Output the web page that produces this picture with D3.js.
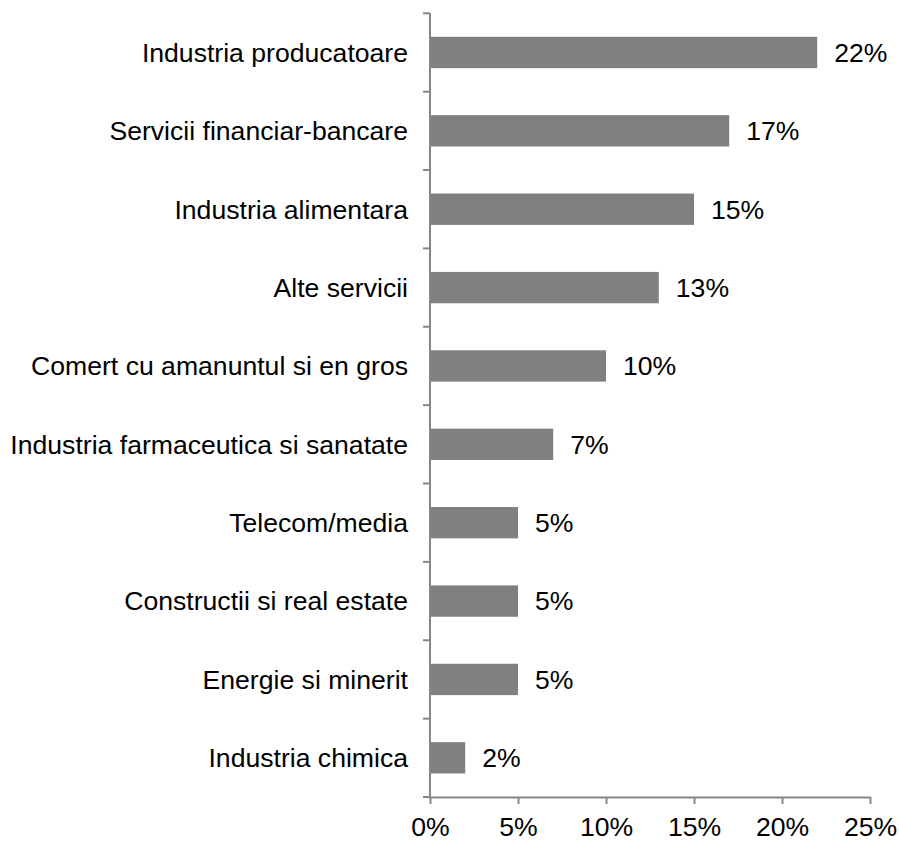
<!DOCTYPE html>
<html>
<head>
<meta charset="utf-8">
<script src="https://cdn.jsdelivr.net/npm/d3@7"></script>
<style>
  html, body { margin: 0; padding: 0; background: #fff; }
  svg { display: block; }
  text { font-family: "Liberation Sans", Arial, sans-serif; fill: #000; }
</style>
</head>
<body>
<div id="chart"></div>
<script>
// Sector shares (percent)
const categories = [
  "Industria producatoare",
  "Servicii financiar-bancare",
  "Industria alimentara",
  "Alte servicii",
  "Comert cu amanuntul si en gros",
  "Industria farmaceutica si sanatate",
  "Telecom/media",
  "Constructii si real estate",
  "Energie si minerit",
  "Industria chimica"
];
const values = [22, 17, 15, 13, 10, 7, 5, 5, 5, 2];
const xTickValues = [0, 5, 10, 15, 20, 25];

const W = 899, H = 842;
const plotLeft = 430, plotRight = 870, plotTop = 13.3, plotBottom = 797;
const axisColor = "#868686";
const barColor = "#808080";
const fontSize = 26.6;

const svg = d3.select("#chart").append("svg")
  .attr("width", W).attr("height", H);

const x = d3.scaleLinear().domain([0, 25]).range([plotLeft, plotRight]);
const y = d3.scaleBand().domain(categories).range([plotTop, plotBottom])
  .paddingInner(0.6).paddingOuter(0.3);

// Bars
svg.append("g").selectAll("rect")
  .data(values)
  .join("rect")
  .attr("x", x(0) + 1)
  .attr("y", (d, i) => y(categories[i]))
  .attr("width", d => x(d) - x(0) - 1)
  .attr("height", y.bandwidth())
  .attr("fill", barColor);

// Value labels
svg.append("g").selectAll("text")
  .data(values)
  .join("text")
  .attr("x", d => x(d) + 17)
  .attr("y", (d, i) => y(categories[i]) + y.bandwidth() / 2)
  .attr("dy", "0.35em")
  .attr("font-size", fontSize)
  .text(d => d + "%");

// Category axis (left) with ticks at band boundaries
const yAxis = svg.append("g");
yAxis.append("line")
  .attr("x1", plotLeft).attr("x2", plotLeft)
  .attr("y1", plotTop).attr("y2", plotBottom)
  .attr("stroke", axisColor).attr("stroke-width", 2);
const step = y.step();
yAxis.selectAll("line.tick")
  .data(d3.range(categories.length + 1))
  .join("line")
  .attr("class", "tick")
  .attr("x1", plotLeft - 7).attr("x2", plotLeft)
  .attr("y1", i => plotTop + i * step).attr("y2", i => plotTop + i * step)
  .attr("stroke", axisColor).attr("stroke-width", 2);
yAxis.selectAll("text")
  .data(categories)
  .join("text")
  .attr("x", plotLeft - 22)
  .attr("y", d => y(d) + y.bandwidth() / 2)
  .attr("dy", "0.35em")
  .attr("text-anchor", "end")
  .attr("font-size", fontSize)
  .text(d => d);

// Value axis (bottom)
const xAxis = svg.append("g")
  .attr("transform", `translate(0,${plotBottom})`)
  .call(d3.axisBottom(x).tickValues(xTickValues)
    .tickFormat(d => d + "%").tickSizeInner(7).tickSizeOuter(0).tickPadding(13));
xAxis.select(".domain").attr("stroke", axisColor).attr("stroke-width", 2);
xAxis.selectAll(".tick line").attr("stroke", axisColor).attr("stroke-width", 2);
xAxis.selectAll(".tick text")
  .attr("font-size", fontSize)
  .attr("font-family", "Liberation Sans, Arial, sans-serif")
  .attr("fill", "#000");
</script>
</body>
</html>
